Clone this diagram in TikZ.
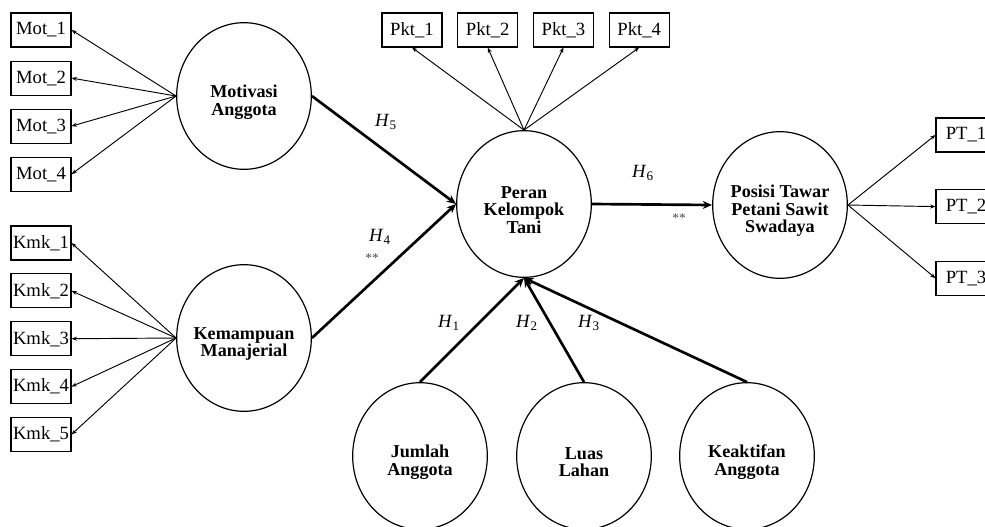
\documentclass[tikz,border=0pt]{standalone}
\usepackage{fontspec}
\setmainfont{Liberation Serif}
\usetikzlibrary{shapes.geometric,arrows.meta,positioning}
\newcommand{\hyp}[1]{\textit{H}\textsubscript{#1}}

\begin{document}
\begin{tikzpicture}[x=0.75pt,y=-0.75pt,
  ind/.style={rectangle,draw,line width=0.8pt,minimum width=45pt,minimum height=25.5pt,
              inner sep=1pt,font=\fontsize{14}{16}\selectfont},
  lat/.style={ellipse,draw,line width=0.9pt,minimum width=101pt,minimum height=110pt,inner sep=0pt},
  lattxt/.style={align=center,inner sep=0pt,yshift=-4.5pt,font=\fontsize{13.6}{13.2}\selectfont\bfseries},
  ld/.style={-{Stealth[length=4pt,width=3pt]},line width=0.7pt},
  pth/.style={-{Stealth[length=7pt,width=6pt]},line width=2pt},
  lbl/.style={font=\fontsize{14}{16}\selectfont},
  sig/.style={font=\fontsize{10}{11}\selectfont,text=black!70}
]
  \useasboundingbox (0,0) rectangle (985,526);
  % latent constructs
  \node[lat,label={[lattxt]center:Motivasi\\Anggota}] (mot) at (244,96) {};
  \node[lat,label={[lattxt]center:Kemampuan\\Manajerial}] (kmk) at (244,338) {};
  \node[lat,label={[lattxt]center:Peran\\Kelompok\\Tani}] (pkt) at (524,204) {};
  \node[lat,label={[lattxt]center:Posisi Tawar\\Petani Sawit\\Swadaya}] (ptw) at (780,205) {};
  \node[lat,label={[lattxt]center:Jumlah\\Anggota}] (jml) at (420,456) {};
  \node[lat,label={[lattxt]center:Luas\\Lahan}] (lls) at (584,456) {};
  \node[lat,label={[lattxt]center:Keaktifan\\Anggota}] (akt) at (747,456) {};
  % indicators
  \node[ind] (mot1) at (41,30) {Mot\_1};
  \node[ind,below=9.75pt of mot1] (mot2) {Mot\_2};
  \node[ind,below=9.75pt of mot2] (mot3) {Mot\_3};
  \node[ind,below=9.75pt of mot3] (mot4) {Mot\_4};
  \node[ind] (kmk1) at (41,243) {Kmk\_1};
  \node[ind,below=9.6pt of kmk1] (kmk2) {Kmk\_2};
  \node[ind,below=9.6pt of kmk2] (kmk3) {Kmk\_3};
  \node[ind,below=9.6pt of kmk3] (kmk4) {Kmk\_4};
  \node[ind,below=9.6pt of kmk4] (kmk5) {Kmk\_5};
  \node[ind] (pkt1) at (412,30) {Pkt\_1};
  \node[ind,right=11pt of pkt1] (pkt2) {Pkt\_2};
  \node[ind,right=11pt of pkt2] (pkt3) {Pkt\_3};
  \node[ind,right=11pt of pkt3] (pkt4) {Pkt\_4};
  \node[ind] (pt1) at (966,135) {PT\_1};
  \node[ind,below=27.4pt of pt1] (pt2) {PT\_2};
  \node[ind,below=27.4pt of pt2] (pt3) {PT\_3};
  % loadings
  \draw[ld] (mot.west) -- (mot1.east); \draw[ld] (mot.west) -- (mot2.east);
  \draw[ld] (mot.west) -- (mot3.east); \draw[ld] (mot.west) -- (mot4.east);
  \draw[ld] (kmk.west) -- (kmk1.east); \draw[ld] (kmk.west) -- (kmk2.east);
  \draw[ld] (kmk.west) -- (kmk3.east); \draw[ld] (kmk.west) -- (kmk4.east);
  \draw[ld] (kmk.west) -- (kmk5.east);
  \draw[ld] (pkt.north) -- (pkt1.south); \draw[ld] (pkt.north) -- (pkt2.south);
  \draw[ld] (pkt.north) -- (pkt3.south); \draw[ld] (pkt.north) -- (pkt4.south);
  \draw[ld] (ptw.east) -- (pt1.west); \draw[ld] (ptw.east) -- (pt2.west);
  \draw[ld] (ptw.east) -- (pt3.west);
  % paths
  \draw[pth] (mot.east) -- (pkt.west);
  \draw[pth] (kmk.east) -- (pkt.west);
  \draw[pth] (pkt.east) -- (ptw.west);
  \draw[pth] (jml.north) -- (pkt.south);
  \draw[pth] (lls.north) -- (pkt.south);
  \draw[pth] (akt.north) -- (pkt.south);
  % hypothesis labels
  \node[lbl] (h5) at (386,122) {\hyp{5}};
  \node[lbl] (h4) at (380,237) {\hyp{4}};
  \node[sig] (s4) at (372,258) {**};
  \node[lbl] (h6) at (643,173) {\hyp{6}};
  \node[sig] (s6) at (679,218) {**};
  \node[lbl] (h1) at (449,323) {\hyp{1}};
  \node[lbl] (h2) at (527,323) {\hyp{2}};
  \node[lbl] (h3) at (589,323) {\hyp{3}};
\end{tikzpicture}
\end{document}
